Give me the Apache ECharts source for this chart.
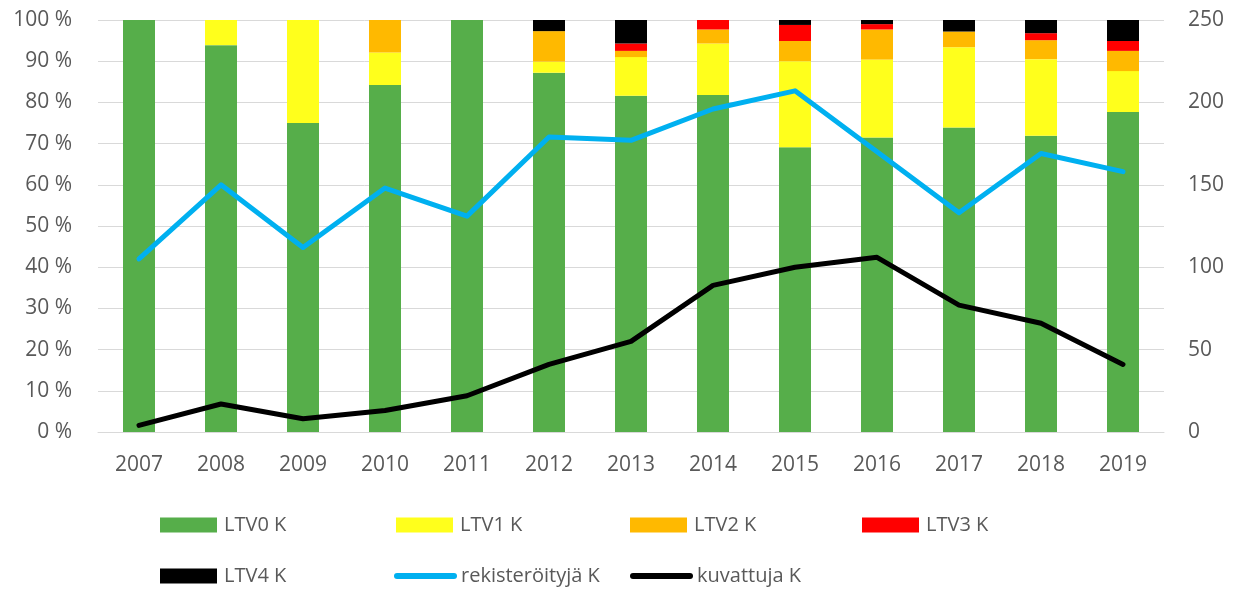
<!DOCTYPE html>
<html>
<head>
<meta charset="utf-8">
<script src="https://cdn.jsdelivr.net/npm/echarts@6/dist/echarts.min.js"></script>
<style>
html,body{margin:0;padding:0;background:#fff;}
#chart{width:1240px;height:592px;}
</style>
</head>
<body>
<div id="chart"></div>
<script>
const years = ['2007','2008','2009','2010','2011','2012','2013','2014','2015','2016','2017','2018','2019'];
const ltv0 = [100, 93.9, 75.0, 84.2, 100, 87.2, 81.6, 81.8, 69.1, 71.5, 73.9, 71.9, 77.7];
const ltv1 = [0, 6.1, 25.0, 7.9, 0, 2.7, 9.4, 12.5, 20.9, 18.9, 19.5, 18.6, 9.9];
const ltv2 = [0, 0, 0, 7.9, 0, 7.4, 1.5, 3.4, 4.9, 7.3, 3.8, 4.6, 4.9];
const ltv3 = [0, 0, 0, 0, 0, 0, 1.8, 2.3, 3.9, 1.3, 0, 1.7, 2.4];
const ltv4 = [0, 0, 0, 0, 0, 2.7, 5.7, 0, 1.2, 1.0, 2.8, 3.2, 5.1];
const rekisteroityja = [105, 150, 112, 148, 131, 179, 177, 196, 207, 170, 133, 169, 158];
const kuvattuja = [4, 17, 8, 13, 22, 41, 55, 89, 100, 106, 77, 66, 41];
const leftTicks = {min: 0, max: 100, interval: 10};
const rightTicks = {min: 0, max: 250, interval: 25, labelStep: 50};

const FONT = 'Open Sans';
const TXT = '#595959';
const chart = echarts.init(document.getElementById('chart'), null, {renderer: 'canvas'});

function bar(name, data, color) {
  return {name, type: 'bar', stack: 'ltv', data, barWidth: 32, itemStyle: {color}, yAxisIndex: 0};
}
function line(name, data, color) {
  return {name, type: 'line', data, yAxisIndex: 1, showSymbol: false, symbol: 'none',
    lineStyle: {color, width: 5, cap: 'round', join: 'round'}, itemStyle: {color}, z: 5};
}
function leg(name, left, top, isLine) {
  const l = {
    data: [{name, icon: isLine ? undefined : 'rect'}],
    left, top, itemWidth: 57, itemHeight: 15, itemGap: 0, padding: 0,
    textStyle: {fontFamily: FONT, fontSize: 20, color: TXT, padding: [0, 0, 0, 2]},
    selectedMode: false
  };
  if (isLine) { l.itemStyle = {opacity: 0}; l.lineStyle = {width: 6, cap: 'round'}; }
  return l;
}

chart.setOption({
  animation: false,
  backgroundColor: '#fff',
  grid: {left: 98, right: 76, top: 20, bottom: 160},
  legend: [
    leg('LTV0 K', 160, 515), leg('LTV1 K', 396, 515), leg('LTV2 K', 630, 515), leg('LTV3 K', 862, 515),
    leg('LTV4 K', 160, 566), leg('rekisteröityjä K', 394, 566, true), leg('kuvattuja K', 630, 566, true)
  ],
  xAxis: {
    type: 'category', data: years,
    axisLine: {lineStyle: {color: '#d9d9d9', width: 1}},
    axisTick: {show: false},
    axisLabel: {fontFamily: FONT, fontSize: 21, color: TXT, margin: 23}
  },
  yAxis: [
    {type: 'value', min: leftTicks.min, max: leftTicks.max, interval: leftTicks.interval,
     axisLine: {show: false}, axisTick: {show: false},
     splitLine: {lineStyle: {color: '#d9d9d9', width: 1}},
     axisLabel: {fontFamily: FONT, fontSize: 21, color: TXT, margin: 26, formatter: '{value} %'}},
    {type: 'value', min: rightTicks.min, max: rightTicks.max, interval: rightTicks.interval,
     axisLine: {show: false}, axisTick: {show: false}, splitLine: {show: false},
     axisLabel: {fontFamily: FONT, fontSize: 21, color: TXT, margin: 24,
       formatter: v => (v % rightTicks.labelStep === 0 ? String(v) : '')}}
  ],
  series: [
    bar('LTV0 K', ltv0, '#56ae4a'),
    bar('LTV1 K', ltv1, '#ffff1c'),
    bar('LTV2 K', ltv2, '#ffb900'),
    bar('LTV3 K', ltv3, '#ff0000'),
    bar('LTV4 K', ltv4, '#000000'),
    line('rekisteröityjä K', rekisteroityja, '#00b0f0'),
    line('kuvattuja K', kuvattuja, '#000000')
  ]
});
</script>
</body>
</html>
